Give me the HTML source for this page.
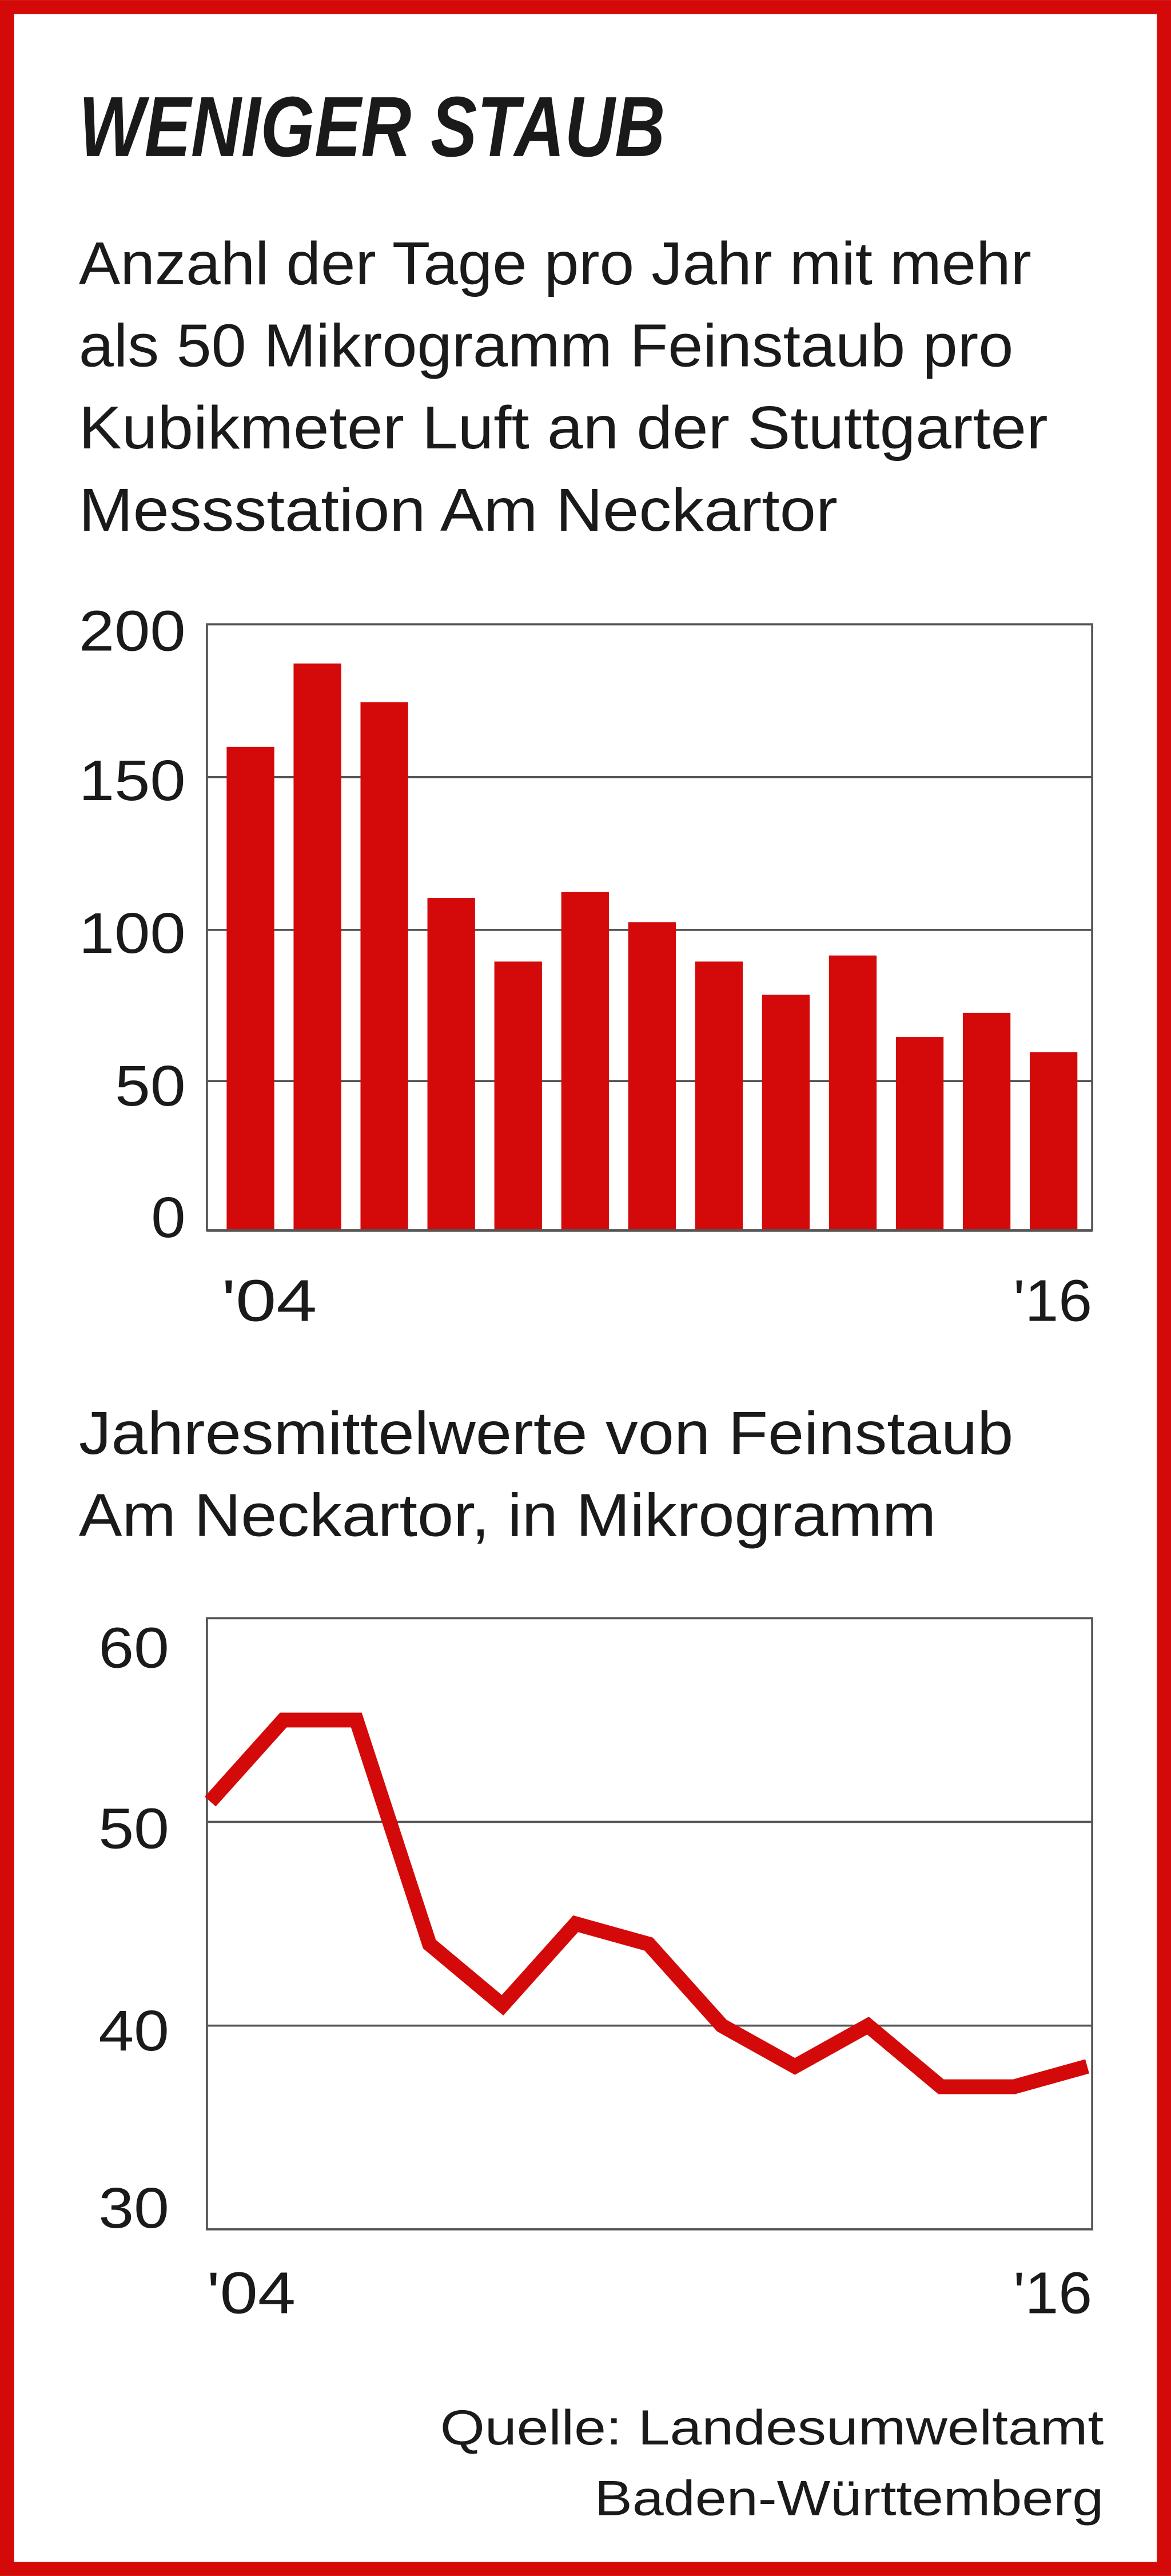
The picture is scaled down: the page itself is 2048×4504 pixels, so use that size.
<!DOCTYPE html>
<html><head><meta charset="utf-8"><style>html,body{margin:0;padding:0;background:#fff}svg{display:block}</style></head>
<body>
<svg width="2048" height="4504" viewBox="0 0 713 1568" xmlns="http://www.w3.org/2000/svg" font-family="Liberation Sans, sans-serif" fill="#1a1a1a">
<rect x="0" y="0" width="713" height="1568" fill="#fff"/>
<rect x="4.3" y="4.3" width="704.4" height="1559.4" fill="none" stroke="#d40a0a" stroke-width="8.6"/>
<text x="48" y="95" font-size="52" font-weight="bold" font-style="italic" textLength="357" lengthAdjust="spacingAndGlyphs">WENIGER STAUB</text>
<g font-size="37">
<text x="48" y="173" textLength="580" lengthAdjust="spacingAndGlyphs">Anzahl der Tage pro Jahr mit mehr</text>
<text x="48" y="223" textLength="569" lengthAdjust="spacingAndGlyphs">als 50 Mikrogramm Feinstaub pro</text>
<text x="48" y="273" textLength="590" lengthAdjust="spacingAndGlyphs">Kubikmeter Luft an der Stuttgarter</text>
<text x="48" y="323" textLength="462" lengthAdjust="spacingAndGlyphs">Messstation Am Neckartor</text>
<text x="48" y="885" textLength="569" lengthAdjust="spacingAndGlyphs">Jahresmittelwerte von Feinstaub</text>
<text x="48" y="935" textLength="522" lengthAdjust="spacingAndGlyphs">Am Neckartor, in Mikrogramm</text>
</g>
<!-- chart 1 -->
<g stroke="#555" stroke-width="1.3" fill="none">
<rect x="126" y="380" width="539" height="369"/>
<line x1="126" y1="473" x2="665" y2="473"/>
<line x1="126" y1="566" x2="665" y2="566"/>
<line x1="126" y1="658" x2="665" y2="658"/>
</g>
<g fill="#d40a0a">
<rect x="138" y="454.6" width="29" height="294.4"/>
<rect x="178.75" y="403.9" width="29" height="345.1"/>
<rect x="219.5" y="427.4" width="29" height="321.6"/>
<rect x="260.25" y="546.6" width="29" height="202.4"/>
<rect x="301" y="585.3" width="29" height="163.7"/>
<rect x="341.75" y="543" width="29" height="206"/>
<rect x="382.5" y="561.3" width="29" height="187.7"/>
<rect x="423.25" y="585.3" width="29" height="163.7"/>
<rect x="464" y="605.5" width="29" height="143.5"/>
<rect x="504.75" y="581.6" width="29" height="167.4"/>
<rect x="545.5" y="631.2" width="29" height="117.8"/>
<rect x="586.25" y="616.5" width="29" height="132.5"/>
<rect x="627" y="640.4" width="29" height="108.6"/>
</g>
<line x1="126" y1="749" x2="665" y2="749" stroke="#555" stroke-width="1.6"/>
<g font-size="35">
<text x="48" y="396" textLength="65" lengthAdjust="spacingAndGlyphs">200</text>
<text x="48" y="487" textLength="65" lengthAdjust="spacingAndGlyphs">150</text>
<text x="48" y="580" textLength="65" lengthAdjust="spacingAndGlyphs">100</text>
<text x="70" y="673" textLength="43" lengthAdjust="spacingAndGlyphs">50</text>
<text x="92" y="753" textLength="21" lengthAdjust="spacingAndGlyphs">0</text>
</g>
<text x="135" y="804" font-size="36" textLength="58" lengthAdjust="spacingAndGlyphs">'04</text>
<text x="617" y="804" font-size="36" textLength="48" lengthAdjust="spacingAndGlyphs">'16</text>
<!-- chart 2 -->
<g stroke="#555" stroke-width="1.3" fill="none">
<rect x="126" y="985" width="539" height="372"/>
<line x1="126" y1="1109" x2="665" y2="1109"/>
<line x1="126" y1="1233" x2="665" y2="1233"/>
</g>
<polyline fill="none" stroke="#d40a0a" stroke-width="9" stroke-linejoin="miter" points="128,1096.6 172.5,1047 217,1047 261.5,1183.4 306,1220.6 350.5,1171 395,1183.4 439.5,1233 484,1257.8 528.5,1233 573,1270.2 617.5,1270.2 662,1257.8"/>
<g font-size="35">
<text x="60" y="1015" textLength="43" lengthAdjust="spacingAndGlyphs">60</text>
<text x="60" y="1125" textLength="43" lengthAdjust="spacingAndGlyphs">50</text>
<text x="60" y="1248" textLength="43" lengthAdjust="spacingAndGlyphs">40</text>
<text x="60" y="1356" textLength="43" lengthAdjust="spacingAndGlyphs">30</text>
</g>
<text x="126" y="1408" font-size="36" textLength="54" lengthAdjust="spacingAndGlyphs">'04</text>
<text x="617" y="1408" font-size="36" textLength="48" lengthAdjust="spacingAndGlyphs">'16</text>
<g font-size="30" text-anchor="end">
<text x="672" y="1488" textLength="404" lengthAdjust="spacingAndGlyphs">Quelle: Landesumweltamt</text>
<text x="672" y="1531" textLength="310" lengthAdjust="spacingAndGlyphs">Baden-Württemberg</text>
</g>
</svg>
</body></html>
